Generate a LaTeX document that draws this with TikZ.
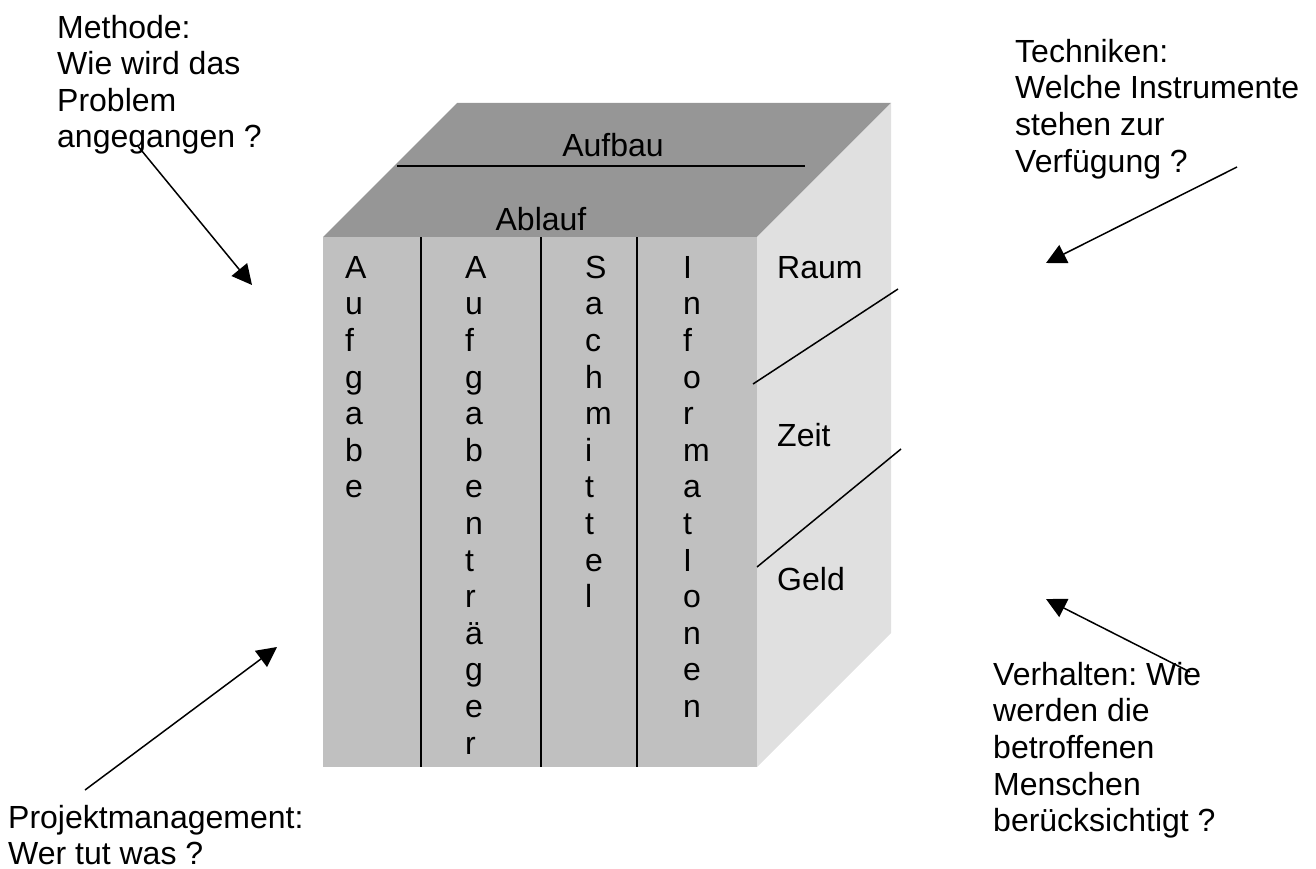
\documentclass[tikz,border=0pt]{standalone}
\usepackage{fontspec}
\setmainfont{Liberation Sans}
\usetikzlibrary{arrows.meta}
\definecolor{topgray}{RGB}{150,150,150}
\definecolor{frontgray}{RGB}{192,192,192}
\definecolor{sidegray}{RGB}{224,224,224}
\tikzset{
  lbl/.style={inner sep=0pt, anchor=north west, align=left,
    font=\fontsize{32pt}{36.6pt}\selectfont\frenchspacing},
  one/.style={inner sep=0pt, font=\fontsize{32pt}{36.6pt}\selectfont},
  ln/.style={line width=1.5pt, black},
  arr/.style={line width=1.5pt, black, -{Triangle[length=20pt,width=20pt]}}
}
\newcommand{\fl}{\rule{0pt}{25pt}}
\begin{document}
\begin{tikzpicture}[x=1pt,y=-1pt]
\useasboundingbox (0,0) rectangle (1316,869);
% cube faces
\fill[topgray] (323,237) -- (457,103) -- (891,103) -- (757,237) -- cycle;
\fill[frontgray] (323,237) rectangle (757,767);
\fill[sidegray] (757,237) -- (891,103) -- (891,633) -- (757,767) -- cycle;
% column dividers
\draw[ln] (421,237) -- (421,767);
\draw[ln] (541,237) -- (541,767);
\draw[ln] (637,237) -- (637,767);
% top face divider
\draw[ln] (397,166) -- (805,166);
% right face dividers
\draw[ln] (753,384) -- (898,289);
\draw[ln] (757,567) -- (901,449);
% top labels
\node[one, anchor=base] (aufbau) at (613,157) {Aufbau};
\node[one, anchor=base] (ablauf) at (541,230) {Ablauf};
% columns
\node[lbl] (colA) at (345,253) {\fl A\\u\\f\\g\\a\\b\\e};
\node[lbl] (colB) at (465,253) {\fl A\\u\\f\\g\\a\\b\\e\\n\\t\\r\\ä\\g\\e\\r};
\node[lbl] (colC) at (585,253) {\fl S\\a\\c\\h\\m\\i\\t\\t\\e\\l};
\node[lbl] (colD) at (683,253) {\fl I\\n\\f\\o\\r\\m\\a\\t\\I\\o\\n\\e\\n};
% right face labels
\node[one, anchor=base west] (raum) at (777,278) {Raum};
\node[one, anchor=base west] (zeit) at (777,446) {Zeit};
\node[one, anchor=base west] (geld) at (777,590) {Geld};
% outer texts
\node[lbl] (methode) at (57,13) {\fl Methode:\\Wie wird das\\Problem\\angegangen ?};
\node[lbl] (techniken) at (1015,37) {\fl Techniken:\\Welche Instrumente\\stehen zur\\Verfügung ?};
\node[lbl] (projekt) at (8,803) {\fl Projektmanagement:\\Wer tut was ?};
\node[lbl] (verhalten) at (993,660) {\fl Verhalten: Wie\\werden die\\betroffenen\\Menschen\\berücksichtigt ?};
% arrow ends
\coordinate (mS) at (137,145);
\coordinate (mT) at (252,285);
\coordinate (tS) at (1237,167);
\coordinate (tT) at (1046,263);
\coordinate (pS) at (85,790);
\coordinate (pT) at (277,647);
\coordinate (vS) at (1190,672);
\coordinate (vT) at (1046,599);
\draw[arr] (mS) -- (mT);
\draw[arr] (tS) -- (tT);
\draw[arr] (pS) -- (pT);
\draw[arr] (vS) -- (vT);
\end{tikzpicture}
\end{document}
